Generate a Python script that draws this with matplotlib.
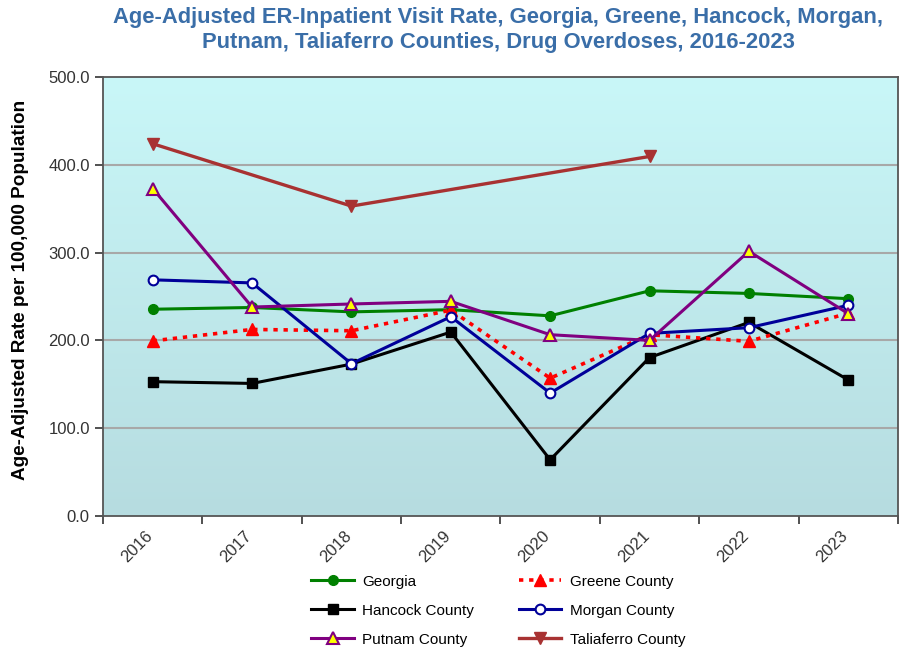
import numpy as np
import matplotlib
matplotlib.use("Agg")
import matplotlib.pyplot as plt
import matplotlib.transforms as mtransforms

plt.rcParams['font.family'] = ['Liberation Sans', 'DejaVu Sans']

years = ['2016', '2017', '2018', '2019', '2020', '2021', '2022', '2023']

georgia = [235.5, 237.5, 232.5, 235.0, 228.0, 256.5, 253.5, 247.5]
greene = [199.5, 212.5, 211.0, 234.5, 157.0, 206.5, 199.0, 231.0]
hancock = [153.0, 151.0, 173.0, 209.5, 64.0, 180.5, 220.5, 155.0]
morgan = [269.0, 265.5, 173.5, 227.0, 140.0, 208.0, 214.5, 240.0]
putnam = [373.0, 238.0, 241.5, 244.5, 206.5, 200.0, 301.5, 230.5]
taliaferro = [424.0, np.nan, 353.0, np.nan, np.nan, 409.5, np.nan, np.nan]

fig = plt.figure(figsize=(9.07, 6.56), dpi=100)
ax = fig.add_axes([0.1136, 0.2134, 0.8764, 0.6692])

# gradient fill behind the plot
grad = np.linspace(0, 1, 256).reshape(-1, 1)
top_c = np.array([201, 247, 248]) / 255
bot_c = np.array([182, 220, 224]) / 255
img = top_c * (1 - grad[..., None]) + bot_c * grad[..., None]
ax.imshow(img, extent=[-0.5, 7.5, 0, 500], aspect='auto', zorder=0)

x = np.arange(len(years))
lines = {}


def draw(vals, label, **kw):
    v = np.array(vals, dtype=float)
    ok = ~np.isnan(v)
    lines[label] = ax.plot(x[ok], v[ok], label=label, **kw)[0]


draw(georgia, 'Georgia', color='#008000', lw=2.2, marker='o', ms=7,
     mfc='#008000', mec='#008000', zorder=3)
draw(greene, 'Greene County', color='#FF0000', lw=2.6, ls=(0, (1.2, 1.6)),
     marker='^', ms=9, mfc='#FF0000', mec='#FF0000', zorder=4)
draw(hancock, 'Hancock County', color='#000000', lw=2.2, marker='s', ms=6.5,
     mfc='#000000', mec='#000000', zorder=3)
draw(morgan, 'Morgan County', color='#000099', lw=2.2, marker='o', ms=7,
     mfc='white', mec='#000099', mew=1.5, zorder=5)
draw(putnam, 'Putnam County', color='#800080', lw=2.2, marker='^', ms=9,
     mfc='#FFFF00', mec='#800080', mew=1.5, zorder=6)
draw(taliaferro, 'Taliaferro County', color='#A83232', lw=2.4, marker='v', ms=9,
     mfc='#A83232', mec='#A83232', zorder=7)

ax.set_xlim(-0.5, 7.5)
ax.set_ylim(0, 500)
ax.set_yticks(np.arange(0, 501, 100))
ax.set_yticklabels([f'{v:.1f}' for v in range(0, 501, 100)], fontsize=12, color='#333333')
for g in range(100, 500, 100):
    ax.axhline(g, color='#A8A8A8', lw=1.5, zorder=1)

ax.set_xticks(np.arange(-0.5, 8, 1))
ax.set_xticklabels([])
ax.set_xticks(x, minor=True)
ax.set_xticklabels(years, minor=True, rotation=45, ha='right', va='top',
                   rotation_mode='anchor', fontsize=12, color='#333333')
ax.tick_params(axis='x', which='minor', length=0, pad=9)
ax.tick_params(axis='both', which='major', length=6, width=1.2, color='#333333', direction='out')
shift = mtransforms.ScaledTranslation(-8 / 100, 0, fig.dpi_scale_trans)
for lbl in ax.get_xticklabels(minor=True):
    lbl.set_transform(lbl.get_transform() + shift)

for s in ax.spines.values():
    s.set_color('#555555')
    s.set_linewidth(1.3)

ax.set_ylabel('Age-Adjusted Rate per 100,000 Population', fontsize=13.6,
              fontweight='bold')
ax.yaxis.set_label_coords(-0.093, 0.515)

fig.suptitle('Age-Adjusted ER-Inpatient Visit Rate, Georgia, Greene, Hancock, Morgan,\n'
             'Putnam, Taliaferro Counties, Drug Overdoses, 2016-2023',
             x=0.549, y=0.99, fontsize=15.8, fontweight='bold', color='#3A6EA8',
             linespacing=1.25)

order = ['Georgia', 'Hancock County', 'Putnam County',
         'Greene County', 'Morgan County', 'Taliaferro County']
fig.legend([lines[k] for k in order], order, loc='upper left',
           bbox_to_anchor=(0.328, 0.145), ncol=2, frameon=False,
           fontsize=11, handlelength=2.8, columnspacing=2.9, labelspacing=0.98,
           handletextpad=0.55)

fig.savefig('out.png', dpi=100)
